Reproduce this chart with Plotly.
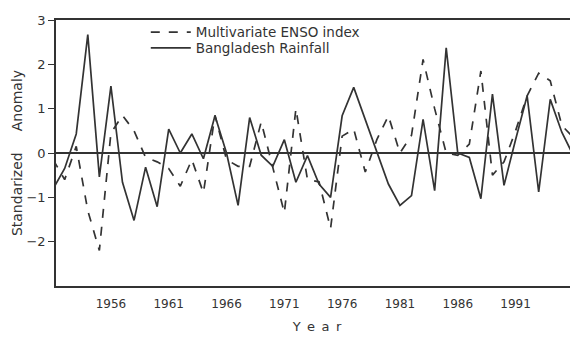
import plotly.graph_objects as go

years = list(range(1951, 1997))

enso_index = [
    -0.15, -0.6, 0.15, -1.3, -2.2, 0.45, 0.85, 0.5, -0.1, -0.2,
    -0.35, -0.75, -0.15, -0.9, 0.85, -0.15, -0.3, -0.3, 0.7, -0.3,
    -1.35, 1.0, -0.6, -0.65, -1.7, 0.38, 0.54, -0.43, 0.3, 0.84,
    0.0, 0.4, 2.11, 1.0, 0.0, -0.05, 0.2, 1.85, -0.5, -0.2,
    0.5, 1.29, 1.8, 1.63, 0.62, 0.35,
]

bangladesh_rainfall = [
    -0.81, -0.35, 0.43, 2.67, -0.54, 1.51, -0.66, -1.52, -0.32, -1.21,
    0.54, 0.0, 0.43, -0.13, 0.84, 0.0, -1.18, 0.80, -0.05, -0.3,
    0.3, -0.66, -0.06, -0.7, -1.0, 0.84, 1.48, 0.75, 0.0, -0.7,
    -1.18, -0.96, 0.76, -0.85, 2.37, 0.0, -0.1, -1.03, 1.33, -0.73,
    0.3, 1.29, -0.88, 1.21, 0.47, -0.06,
]

x_ticks = [1956, 1961, 1966, 1971, 1976, 1981, 1986, 1991]
y_ticks = [-2, -1, 0, 1, 2, 3]

ink = "#333333"
font = "DejaVu Sans"

fig = go.Figure()
fig.add_trace(go.Scatter(
    x=years, y=enso_index, mode="lines", name="Multivariate ENSO index",
    line=dict(color=ink, width=1.7, dash="dash"), legend="legend",
))
fig.add_trace(go.Scatter(
    x=years, y=bangladesh_rainfall, mode="lines", name="Bangladesh Rainfall",
    line=dict(color=ink, width=1.7), legend="legend2",
))

legend_style = dict(
    xanchor="left", yanchor="top", bgcolor="rgba(0,0,0,0)",
    font=dict(size=13.5, family=font, color=ink), itemwidth=40,
)

# the page body adds an 8px margin, so the figure is 8px smaller on each axis
fig.update_layout(
    width=570, height=330,
    margin=dict(l=48, r=0, t=12, b=52),
    paper_bgcolor="white", plot_bgcolor="white",
    font=dict(family=font, color=ink, size=12),
    showlegend=True,
    legend=dict(x=0.172, y=1.012, **legend_style),
    legend2=dict(x=0.172, y=0.953, **legend_style),
    xaxis=dict(
        range=[1951.25, 1996.4], tickvals=x_ticks,
        ticktext=[str(v) for v in x_ticks],
        showgrid=False, zeroline=False, automargin=False,
        showline=True, linecolor=ink, linewidth=1.7, mirror=True,
        ticks="", ticklabelstandoff=6,
        tickfont=dict(size=12, family=font, color=ink),
        title=dict(text="Y\u2002e\u2002a\u2002r", font=dict(size=13, family=font, color=ink), standoff=12),
    ),
    yaxis=dict(
        range=[-3, 3], tickvals=y_ticks, automargin=False,
        showgrid=False, zeroline=True, zerolinecolor=ink, zerolinewidth=1.7,
        showline=True, linecolor=ink, linewidth=1.7, mirror=False,
        ticks="outside", ticklen=6, tickwidth=1.4, tickcolor=ink,
        tickfont=dict(size=13, family=font, color=ink),
        title=dict(text="Standarized\u2003\u2002Anomaly", font=dict(size=14, family=font, color=ink), standoff=0),
    ),
)

fig.write_html("out.html")
